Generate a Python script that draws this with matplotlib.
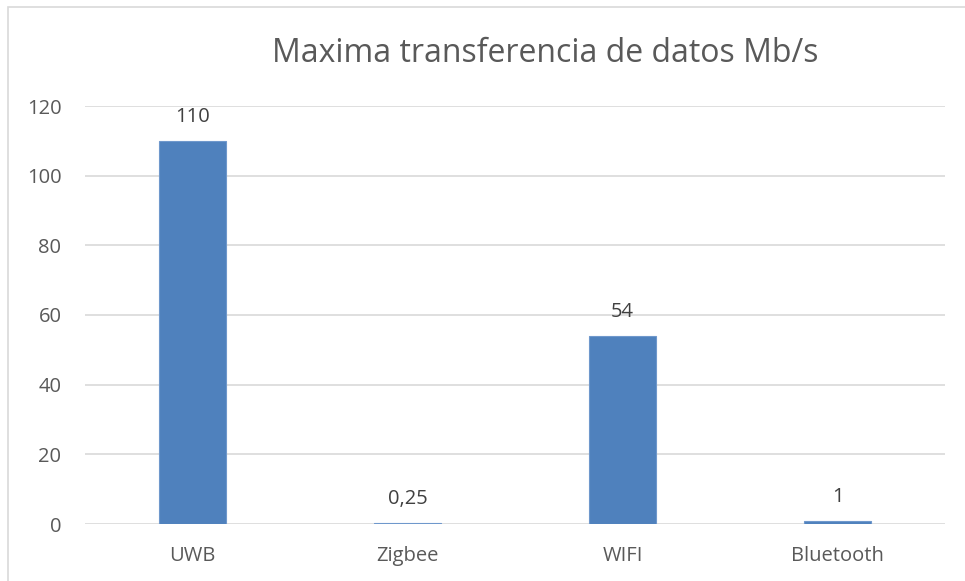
import matplotlib.pyplot as plt
from matplotlib.patches import Rectangle

categories = ["UWB", "Zigbee", "WIFI", "Bluetooth"]
values = [110, 0.25, 54, 1]
value_labels = ["110", "0,25", "54", "1"]
yticks = [0, 20, 40, 60, 80, 100, 120]

plt.rcParams['font.family'] = ['Open Sans', 'DejaVu Sans']

W, H = 965, 581
fig = plt.figure(figsize=(W / 100, H / 100), dpi=100)
ax = fig.add_axes([85 / W, 1 - 524 / H, (945 - 85) / W, (524 - 106) / H])

x = range(len(categories))
ax.bar(x, values, width=0.31, color="#4F81BD", edgecolor="#6F98CC",
       linewidth=0.8, zorder=3)
for xi, v, lab in zip(x, values, value_labels):
    ax.annotate(lab, (xi, v), xytext=(0, 10), textcoords="offset points",
                ha="center", va="bottom", fontsize=14.5, color="#404040")

ax.set_xlim(-0.5, len(categories) - 0.5)
ax.set_ylim(0, 120)
ax.set_yticks(yticks)
ax.set_xticks(list(x))
ax.set_xticklabels(categories)
ax.tick_params(axis="both", length=0, labelsize=14.5, colors="#595959")
ax.tick_params(axis="x", pad=16)
ax.tick_params(axis="y", pad=17)
ax.grid(axis="y", color="#D9D9D9", linewidth=1.2, zorder=0)
for s in ax.spines.values():
    s.set_visible(False)

fig.text(545 / W, 1 - 54 / H, "Maxima transferencia de datos Mb/s",
         ha="center", va="center", fontsize=23, color="#595959")

fig.patches.append(Rectangle((8 / W, -0.1), 1.2, 1 - 7 / H + 0.1,
                             transform=fig.transFigure, fill=False,
                             edgecolor="#D9D9D9", linewidth=1.2))

fig.savefig("out.png", dpi=100)
